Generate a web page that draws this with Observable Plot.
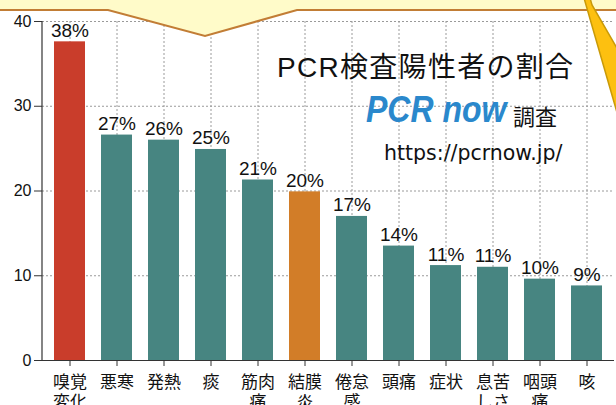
<!DOCTYPE html>
<html><head><meta charset="utf-8">
<script src="https://cdn.jsdelivr.net/npm/d3@7"></script>
<script src="https://cdn.jsdelivr.net/npm/@observablehq/plot@0.6"></script>
<style>
body{margin:0;background:#fff;}
#wrap{position:relative;width:616px;height:405px;overflow:hidden;font-family:"Liberation Sans","Noto Sans CJK JP",sans-serif;}
#chart{position:absolute;left:0;top:0;}
#deco{position:absolute;left:0;top:0;pointer-events:none;}
.ov{position:absolute;white-space:nowrap;color:#111;line-height:1;}
#title{left:277px;top:54px;font-size:28px;letter-spacing:1.3px;}
#logo{left:366px;top:96px;font-size:32px;font-weight:bold;font-style:italic;color:#2a88cc;transform:scaleY(1.15);transform-origin:0 100%;}
#survey{left:513px;top:104px;font-size:22px;font-family:"Noto Sans CJK JP";}
#url{left:384px;top:143px;font-size:20.5px;font-family:"DejaVu Sans";}
</style></head><body>
<div id="wrap">
<div id="chart"></div>
<svg id="deco" width="616" height="405">
  <polygon points="-2,-2 -2,10 108,10 205,36 297,10 618,10 618,-2" fill="#fffbc9" stroke="none"/>
  <polyline points="-2,10 108,10 205,36 297,10 618,10" fill="none" stroke="#c27d35" stroke-width="2"/>
  <polygon points="584,-2 618,116 618,50 592,5 590,-2" fill="#fdc010" stroke="#c99a08" stroke-width="1.5"/>
</svg>
<div class="ov" id="title">PCR検査陽性者の割合</div>
<div class="ov" id="logo">PCR now</div>
<div class="ov" id="survey">調査</div>
<div class="ov" id="url">https://pcrnow.jp/</div>
</div>
<script>
const categories = ["嗅覚\n変化","悪寒","発熱","痰","筋肉\n痛","結膜\n炎","倦怠\n感","頭痛","症状","息苦\nしさ","咽頭\n痛","咳"];
const values = [37.6, 26.6, 26.0, 24.9, 21.3, 19.9, 17.0, 13.5, 11.2, 11.0, 9.6, 8.8];
const pctLabels = ["38%","27%","26%","25%","21%","20%","17%","14%","11%","11%","10%","9%"];
const groups = ["smell","other","other","other","other","eye","other","other","other","other","other","other"];
const groupDomain = ["smell","eye","other"];
const groupColors = ["#c93d2b","#d27d28","#478581"];
const yTicks = [0,10,20,30,40];

const data = categories.map((c,i)=>({cat:c, value:values[i], label:pctLabels[i], group:groups[i]}));

const mL = 42, mT = 21, mB = 45, H = 405;
const plot = Plot.plot({
  width: 616, height: H,
  marginTop: mT, marginBottom: mB, marginLeft: mL, marginRight: 2,
  style: {fontFamily: '"Liberation Sans","Noto Sans CJK JP",sans-serif', fontSize: "16px", color: "#111", background: "transparent"},
  x: {domain: categories, padding: 0.33, range: [34, 622.3], label: null},
  y: {domain: [0,40], label: null},
  color: {domain: groupDomain, range: groupColors},
  marks: [
    Plot.ruleY(yTicks.filter(d=>d>0), {stroke:"#9a9a9a", strokeDasharray:"2,2", strokeWidth:1}),
    Plot.ruleX(categories, {x: d=>d, stroke:"#9a9a9a", strokeDasharray:"2,2", strokeWidth:1}),
    Plot.barY(data, {x:"cat", y:"value", fill:"group"}),
    Plot.ruleY([0], {stroke:"#333", strokeWidth:1.2}),
    Plot.text(data, {x:"cat", y:"value", text:"label", dy:-5, lineAnchor:"bottom", fontSize:19, fill:"#111"}),
    Plot.axisX({tickSize:6, tickPadding:7, fontSize:17, lineHeight:1.18, stroke:"#333"}),
    Plot.axisY({ticks: yTicks, tickSize:8, tickPadding:3, fontSize:16, stroke:"#333"})
  ]
});
document.getElementById("chart").appendChild(plot);
d3.select(plot).append("line")
  .attr("x1", mL).attr("x2", mL).attr("y1", mT).attr("y2", H - mB)
  .attr("stroke", "#333").attr("stroke-width", 1.2);
</script>
</body></html>
